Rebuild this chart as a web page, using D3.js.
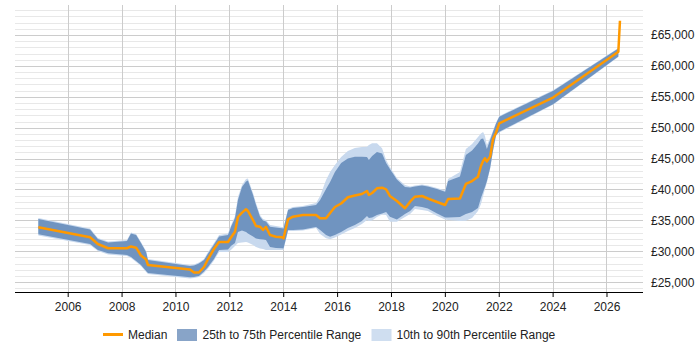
<!DOCTYPE html>
<html>
<head>
<meta charset="utf-8">
<script src="https://cdn.jsdelivr.net/npm/d3@7"></script>
<style>
  html, body { margin: 0; padding: 0; background: #fff; }
  svg { display: block; font-family: "Liberation Sans", Arial, sans-serif; }
</style>
</head>
<body>
<svg id="chart" width="700" height="350"></svg>
<script>
// ---- data ----
const years = [2004.91, 2006.83, 2007.12, 2007.50, 2008.20, 2008.35, 2008.54, 2008.72, 2008.91, 2008.98, 2010.54, 2010.69, 2010.87, 2011.06, 2011.21, 2011.43, 2011.62, 2011.95,
  2012.06, 2012.21, 2012.32, 2012.47, 2012.62, 2012.69, 2012.88, 2012.99, 2013.14, 2013.25, 2013.36, 2013.51, 2013.73, 2013.95, 2014.01, 2014.18, 2014.36, 2014.73, 2015.22,
  2015.37, 2015.59, 2015.74, 2015.92, 2016.15, 2016.40, 2016.66, 2016.92, 2017.11, 2017.18, 2017.30, 2017.48, 2017.67, 2017.82, 2017.96, 2018.22, 2018.52, 2018.71, 2018.89, 2019.15, 2019.37, 2019.71, 2020.01,
  2020.12, 2020.56, 2020.78, 2021.01, 2021.23, 2021.34, 2021.42, 2021.49, 2021.56, 2021.68, 2021.79, 2021.90, 2022.02, 2024.03, 2026.44, 2026.50];

const median = [33880, 32270, 31180, 30490, 30490, 30780, 30580, 29320, 28670, 27780, 27050, 26570, 26570, 27460, 28750, 30370, 31500, 31500,
  32230, 33170, 35550, 36250, 36800, 36520, 35060, 34090, 33980, 33450, 33930, 32640, 32360, 32270, 32100, 35180, 35600, 35870, 35870,
  35340, 35340, 36200, 37170, 37730, 38740, 39030, 39270, 39760, 39110, 39430, 40190, 40290, 40030, 38950, 38140, 36960, 38030, 38830, 38950, 38540, 37980, 37490,
  38460, 38540, 40890, 41370, 42070, 43800, 44610, 45050, 44530, 45310, 48170, 49190, 50710, 54920, 62300, 67310];

const p75 = [35230, 33530, 31990, 31420, 31670, 32880, 32640, 31340, 29890, 28590, 27620, 27700, 28030, 28590, 29640, 31100, 32390, 32640,
  33930, 35390, 38300, 40400, 41290, 41460, 39110, 37490, 35600, 34980, 34820, 33980, 33850, 33720, 33690, 36680, 37010, 37170, 37490,
  38300, 40080, 41210, 42830, 44290, 45010, 45310, 45310, 45260, 44770, 45420, 46070, 45820, 44290, 43320, 41620, 40400, 40320, 40480, 40650, 40480, 40080, 39640,
  41370, 42100, 45580, 46310, 47440, 48170, 48250, 47520, 46550, 48010, 49350, 50680, 51780, 55990, 62810, null];

const p25 = [32750, 31180, 30210, 29680, 29400, 29080, 28430, 27780, 26810, 26490, 25790, 25840, 26000, 26730, 27460, 28750, 30210, 30290,
  30860, 31340, 33120, 33370, 33120, 32880, 32390, 32070, 31940, 31910, 31830, 30700, 30530, 30490, 30450, 33450, 33450, 33530, 33930,
  33450, 32640, 32360, 32640, 33120, 33770, 34260, 34900, 35710, 35390, 35470, 35870, 36120, 36360, 35600, 35150, 36040, 36520, 37330, 37170, 36930, 36120, 35470,
  35470, 35550, 36040, 36360, 37010, 38620, 39590, 40400, 41370, 43480, 46390, 48820, 49350, 53830, 61520, null];

const p90 = [35390, 33690, 32150, 31590, 31830, 33040, 32800, 31500, 30050, 28750, 27780, 27860, 28190, 28750, 29890, 31340, 32640, 32880,
  34170, 35710, 38790, 40730, 41700, 41780, 39430, 37810, 35870, 35230, 35060, 34260, 34090, 33930, 33930, 36840, 37170, 37330, 37810,
  38950, 41540, 42830, 43960, 45260, 46230, 46710, 46880, 46920, 47200, 47470, 47470, 46670, 44770, 43640, 41860, 40730, 40480, 40650, 40810, 40650, 40240, 39840,
  41700, 42830, 46550, 47360, 48490, 49060, 49300, 48660, 47200, 48330, 49550, 50840, 51890, 56100, 62890, null];

const p10 = [32560, 31020, 30050, 29480, 29240, 28920, 28270, 27620, 26650, 26330, 25600, 25680, 25840, 26490, 27220, 28510, 29890, 29890,
  30210, 30860, 31340, 31420, 31500, 31420, 31020, 30700, 30450, 30370, 30210, 30210, 30210, 30210, 30210, 33280, 33280, 33370, 33770,
  32800, 32100, 31940, 32230, 32720, 33280, 33770, 34420, 35060, 34900, 34980, 35550, 35950, 35870, 34790, 34790, 35550, 36040, 36840, 36680, 36520, 35710, 35150,
  35060, 34900, 34950, 35390, 36520, 37650, 38950, 40080, 41050, 43320, 46230, 48660, 49220, 53750, 61440, null];

const xTickYears = [2006, 2008, 2010, 2012, 2014, 2016, 2018, 2020, 2022, 2024, 2026];
const yTickValues = [25000, 30000, 35000, 40000, 45000, 50000, 55000, 60000, 65000];
const legendLabels = ["Median", "25th to 75th Percentile Range", "10th to 90th Percentile Range"];

// ---- layout ----
const plot = { left: 15, right: 643, top: 5, bottom: 292 };
const colors = { median: "#FF9900", band50: "#7094C0", band80: "#C8D9EE",
                 leg50: "#88A4C8", leg80: "#CFDEF0", major: "#cccccc", minor: "#e8e8e8" };

const svg = d3.select("#chart");
const x = d3.scaleLinear().domain([2004.044, 2027.355]).range([plot.left, plot.right]);
const y = d3.scaleLinear().domain([23414, 69851]).range([plot.bottom, plot.top]);

const rows = years.map((yr, i) => ({ yr, med: median[i], p25: p25[i], p75: p75[i], p10: p10[i], p90: p90[i] }));

// minor grid lines every 1000
const minorVals = d3.range(24000, 69001, 1000).filter(v => v % 5000 !== 0);
svg.append("g").selectAll("line").data(minorVals).join("line")
  .attr("x1", plot.left).attr("x2", plot.right)
  .attr("y1", d => Math.round(y(d)) + 0.5).attr("y2", d => Math.round(y(d)) + 0.5)
  .attr("stroke", colors.minor).attr("stroke-width", 1);

// major grid lines
svg.append("g").selectAll("line").data(yTickValues).join("line")
  .attr("x1", plot.left).attr("x2", plot.right)
  .attr("y1", d => Math.round(y(d)) + 0.5).attr("y2", d => Math.round(y(d)) + 0.5)
  .attr("stroke", colors.major).attr("stroke-width", 1);

// vertical grid lines
svg.append("g").selectAll("line").data(xTickYears).join("line")
  .attr("x1", d => Math.round(x(d)) + 0.5).attr("x2", d => Math.round(x(d)) + 0.5)
  .attr("y1", plot.top).attr("y2", plot.bottom)
  .attr("stroke", colors.major).attr("stroke-width", 1);

// bands
const area80 = d3.area().defined(d => d.p10 != null)
  .x(d => x(d.yr)).y0(d => y(d.p10)).y1(d => y(d.p90));
const area50 = d3.area().defined(d => d.p25 != null)
  .x(d => x(d.yr)).y0(d => y(d.p25)).y1(d => y(d.p75));
svg.append("path").datum(rows).attr("d", area80).attr("fill", colors.band80);
svg.append("path").datum(rows).attr("d", area50).attr("fill", colors.band50);

// median line
const line = d3.line().x(d => x(d.yr)).y(d => y(d.med));
svg.append("path").datum(rows).attr("d", line)
  .attr("fill", "none").attr("stroke", colors.median).attr("stroke-width", 2.5)
  .attr("stroke-linejoin", "round");

// x axis
const xAxis = d3.axisBottom(x).tickValues(xTickYears).tickFormat(d3.format("d"))
  .tickSizeInner(5).tickSizeOuter(0);
const gx = svg.append("g").attr("transform", `translate(0,${plot.bottom})`).call(xAxis);
gx.select(".domain").attr("stroke", "#000").attr("d", `M${plot.left},0.5H${plot.right}`);
gx.selectAll(".tick line").attr("stroke", "#000");
gx.selectAll(".tick text").attr("font-size", 12).attr("fill", "#222")
  .attr("font-family", "Liberation Sans, Arial, sans-serif").attr("dy", "0.9em");

// y axis (right side labels)
const yAxis = d3.axisRight(y).tickValues(yTickValues)
  .tickFormat(d => "£" + d3.format(",")(d)).tickSize(0).tickPadding(8);
const gy = svg.append("g").attr("transform", `translate(${plot.right},0)`).call(yAxis);
gy.select(".domain").remove();
gy.selectAll(".tick text").attr("font-size", 12).attr("fill", "#222")
  .attr("font-family", "Liberation Sans, Arial, sans-serif");

// legend
const lg = svg.append("g").attr("font-size", 12).attr("fill", "#222");
lg.append("line").attr("x1", 103).attr("x2", 123).attr("y1", 334.5).attr("y2", 334.5)
  .attr("stroke", colors.median).attr("stroke-width", 3);
lg.append("text").attr("x", 128).attr("y", 338.5).text(legendLabels[0]);
lg.append("rect").attr("x", 177).attr("y", 329).attr("width", 20).attr("height", 12).attr("fill", colors.leg50);
lg.append("text").attr("x", 202.5).attr("y", 338.5).text(legendLabels[1]);
lg.append("rect").attr("x", 371.5).attr("y", 329).attr("width", 20).attr("height", 12).attr("fill", colors.leg80);
lg.append("text").attr("x", 396.5).attr("y", 338.5).text(legendLabels[2]);
</script>
</body>
</html>
